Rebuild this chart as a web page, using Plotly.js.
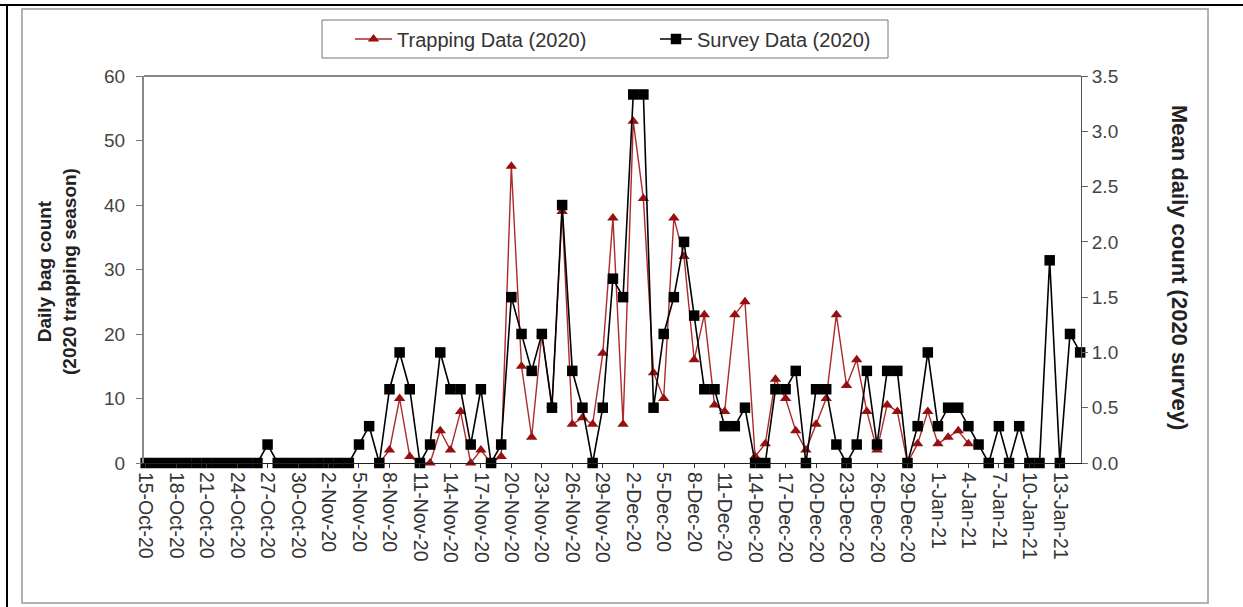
<!DOCTYPE html>
<html>
<head>
<meta charset="utf-8">
<script src="https://cdn.plot.ly/plotly-3.0.1.min.js"></script>
<style>
html,body{margin:0;padding:0;background:#fff;}
#chart{width:1243px;height:607px;}
</style>
</head>
<body>
<div id="chart"></div>
<script>
// Categories: one per day, 15-Oct-20 .. 15-Jan-21
var dates = [
"2020-10-15","2020-10-16","2020-10-17","2020-10-18","2020-10-19","2020-10-20","2020-10-21","2020-10-22","2020-10-23","2020-10-24",
"2020-10-25","2020-10-26","2020-10-27","2020-10-28","2020-10-29","2020-10-30","2020-10-31","2020-11-01","2020-11-02","2020-11-03",
"2020-11-04","2020-11-05","2020-11-06","2020-11-07","2020-11-08","2020-11-09","2020-11-10","2020-11-11","2020-11-12","2020-11-13",
"2020-11-14","2020-11-15","2020-11-16","2020-11-17","2020-11-18","2020-11-19","2020-11-20","2020-11-21","2020-11-22","2020-11-23",
"2020-11-24","2020-11-25","2020-11-26","2020-11-27","2020-11-28","2020-11-29","2020-11-30","2020-12-01","2020-12-02","2020-12-03",
"2020-12-04","2020-12-05","2020-12-06","2020-12-07","2020-12-08","2020-12-09","2020-12-10","2020-12-11","2020-12-12","2020-12-13",
"2020-12-14","2020-12-15","2020-12-16","2020-12-17","2020-12-18","2020-12-19","2020-12-20","2020-12-21","2020-12-22","2020-12-23",
"2020-12-24","2020-12-25","2020-12-26","2020-12-27","2020-12-28","2020-12-29","2020-12-30","2020-12-31","2021-01-01","2021-01-02",
"2021-01-03","2021-01-04","2021-01-05","2021-01-06","2021-01-07","2021-01-08","2021-01-09","2021-01-10","2021-01-11","2021-01-12",
"2021-01-13","2021-01-14","2021-01-15"
];

// Trapping Data (2020) - daily bag count (left axis)
var trapping = [
null,null,null,null,null,null,null,null,null,null,
null,null,null,null,null,null,null,null,null,null,
null,null,null,0,2,10,1,0,0,5,
2,8,0,2,0,1,46,15,4,20,
9,39,6,7,6,17,38,6,53,41,
14,10,38,32,16,23,9,8,23,25,
1,3,13,10,5,2,6,10,23,12,
16,8,2,9,8,0,3,8,3,4,
5,3,null,null,null,null,null,null,null,null,
null,null,null
];

// Survey Data (2020) - mean daily count (right axis)
var survey = [
0,0,0,0,0,0,0,0,0,0,
0,0,0.167,0,0,0,0,0,0,0,
0,0.167,0.333,0,0.667,1.0,0.667,0,0.167,1.0,
0.667,0.667,0.167,0.667,0,0.167,1.5,1.167,0.833,1.167,
0.5,2.333,0.833,0.5,0,0.5,1.667,1.5,3.333,3.333,
0.5,1.167,1.5,2.0,1.333,0.667,0.667,0.333,0.333,0.5,
0,0,0.667,0.667,0.833,0,0.667,0.667,0.167,0,
0.167,0.833,0.167,0.833,0.833,0,0.333,1.0,0.333,0.5,
0.5,0.333,0.167,0,0.333,0,0.333,0,0,1.833,
0,1.167,1.0
];

var leftTicks = [0,10,20,30,40,50,60];
var rightTicks = [0,0.5,1.0,1.5,2.0,2.5,3.0,3.5];

var FONT = "Liberation Sans, Arial, sans-serif";
var L = 144, R = 1081, T = 76, B = 463, W = 1243, H = 607;
function px(x){ return (x - L) / (R - L); }
function py(y){ return (B - y) / (B - T); }

var traces = [
  {
    x: dates, y: trapping, name: "Trapping Data (2020)", type: "scatter", mode: "lines+markers",
    line: {color: "#ad2a2a", width: 1.4},
    marker: {symbol: "triangle-up", size: 10, color: "#961010"},
    cliponaxis: false, connectgaps: false, legend: "legend"
  },
  {
    x: dates, y: survey, name: "Survey Data (2020)", type: "scatter", mode: "lines+markers",
    yaxis: "y2",
    line: {color: "#000000", width: 1.6},
    marker: {symbol: "square", size: 10.5, color: "#000000"},
    cliponaxis: false, legend: "legend2"
  }
];

var layout = {
  width: W, height: H,
  margin: {l: L, r: W - R, t: T, b: H - B},
  paper_bgcolor: "#fff", plot_bgcolor: "#fff",
  font: {family: FONT, color: "#333"},
  showlegend: true,
  legend: {orientation: "h", x: px(350), y: py(39), xanchor: "left", yanchor: "middle", itemwidth: 37,
           bgcolor: "rgba(0,0,0,0)", font: {size: 20, color: "#333", family: FONT}},
  legend2: {orientation: "h", x: px(655), y: py(39), xanchor: "left", yanchor: "middle", itemwidth: 32,
           bgcolor: "rgba(0,0,0,0)", font: {size: 20, color: "#333", family: FONT}},
  xaxis: {
    type: "date",
    range: ["2020-10-14 20:00", "2021-01-15 02:00"],
    tick0: "2020-10-15", dtick: 3 * 86400000,
    tickformat: "%-d-%b-%y", tickangle: 90,
    ticks: "outside", ticklen: 4, tickcolor: "#333",
    showline: true, linecolor: "#222", linewidth: 1,
    mirror: false, showgrid: false, zeroline: false,
    tickfont: {size: 19.5, color: "#333", family: FONT}
  },
  xaxis2: {
    type: "date", overlaying: "x", anchor: "y",
    range: ["2020-10-14 20:00", "2021-01-15 02:00"],
    tick0: "2020-10-15", dtick: 3 * 86400000,
    ticks: "inside", ticklen: 5, tickcolor: "#333", showticklabels: false,
    showline: false, showgrid: false, zeroline: false
  },
  yaxis: {
    range: [0, 60], tickvals: leftTicks, ticktext: leftTicks.map(String),
    ticks: "outside", ticklen: 6, tickcolor: "#777",
    showline: true, linecolor: "#888", linewidth: 2,
    showgrid: false, zeroline: false, ticklabelstandoff: 7,
    tickfont: {size: 19, color: "#444", family: FONT}
  },
  yaxis3: {
    range: [0, 60], tickvals: leftTicks, overlaying: "y", side: "left", anchor: "x",
    ticks: "inside", ticklen: 5, tickcolor: "#777", showticklabels: false,
    showline: false, showgrid: false, zeroline: false
  },
  yaxis2: {
    range: [0, 3.5], tickvals: rightTicks, ticktext: rightTicks.map(function(v){return v.toFixed(1);}),
    overlaying: "y", side: "right",
    ticks: "outside", ticklen: 6, tickcolor: "#666",
    showline: true, linecolor: "#555", linewidth: 1,
    showgrid: false, zeroline: false, ticklabelstandoff: 0,
    tickfont: {size: 19, color: "#444", family: FONT}
  },
  yaxis4: {
    range: [0, 3.5], tickvals: rightTicks, overlaying: "y", side: "right", anchor: "x",
    ticks: "inside", ticklen: 5, tickcolor: "#666", showticklabels: false,
    showline: false, showgrid: false, zeroline: false
  },
  annotations: [
    {text: "<b>Daily bag count</b><br><b>(2020 trapping season)</b>", xref: "paper", yref: "paper",
     x: px(57), y: py(272), textangle: -90, showarrow: false, xanchor: "center", yanchor: "middle",
     font: {size: 19, color: "#222", family: FONT}},
    {text: "<b>Mean daily count (2020 survey)</b>", xref: "paper", yref: "paper",
     x: px(1180), y: py(267), textangle: 90, showarrow: false, xanchor: "center", yanchor: "middle",
     font: {size: 22, color: "#222", family: FONT}}
  ],
  shapes: [
    // plot area top border
    {type: "line", xref: "paper", yref: "paper", x0: 0, x1: 1, y0: 1, y1: 1, line: {color: "#888", width: 2}},
    // legend box
    {type: "rect", xref: "paper", yref: "paper", x0: px(322), x1: px(888), y0: py(58), y1: py(20), line: {color: "#777", width: 1}},
    // chart area border
    {type: "rect", xref: "paper", yref: "paper", x0: px(22), x1: px(1208), y0: py(603), y1: py(9), line: {color: "#999", width: 1.5}},
    // outer black frame lines
    {type: "line", xref: "paper", yref: "paper", x0: px(0), x1: px(1243), y0: py(5), y1: py(5), line: {color: "#000", width: 2}},
    {type: "line", xref: "paper", yref: "paper", x0: px(7), x1: px(7), y0: py(5), y1: py(607), line: {color: "#000", width: 2}}
  ]
};

Plotly.newPlot("chart", traces, layout, {displayModeBar: false, staticPlot: true});
</script>
</body>
</html>
